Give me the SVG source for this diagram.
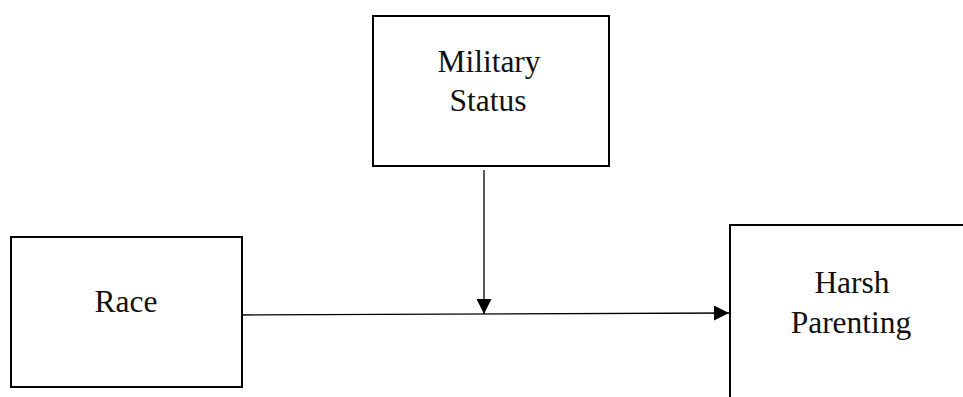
<svg xmlns="http://www.w3.org/2000/svg" width="963" height="397" viewBox="0 0 963 397">
  <style>
    .box { fill: #ffffff; stroke: #000000; stroke-width: 2; }
    .label { font-family: 'Liberation Serif', 'DejaVu Serif', serif; font-size: 31.5px; fill: #111111; text-anchor: middle; }
    .link { stroke: #000000; stroke-width: 1.3; fill: none; }
  </style>
  <defs>
    <marker id="arrow" viewBox="0 0 15 15" refX="15" refY="7.5" markerWidth="15" markerHeight="15" markerUnits="userSpaceOnUse" orient="auto">
      <path d="M0,0 L15,7.5 L0,15 Z" fill="#000000"/>
    </marker>
  </defs>
  <rect width="963" height="397" fill="#ffffff"/>

  <g id="military-status">
    <rect class="box" x="373" y="16" width="236" height="150"/>
    <text class="label" x="489" y="72">Military</text>
    <text class="label" x="488" y="111">Status</text>
  </g>

  <g id="race">
    <rect class="box" x="11" y="237" width="231" height="150"/>
    <text class="label" x="126" y="312">Race</text>
  </g>

  <g id="harsh-parenting">
    <rect class="box" x="730" y="225" width="300" height="200"/>
    <text class="label" x="852" y="293">Harsh</text>
    <text class="label" x="851" y="333">Parenting</text>
  </g>

  <g id="connectors">
    <line class="link" x1="242" y1="315" x2="729" y2="313" marker-end="url(#arrow)"/>
    <line class="link" x1="484" y1="170" x2="484" y2="314" marker-end="url(#arrow)"/>
  </g>
</svg>
